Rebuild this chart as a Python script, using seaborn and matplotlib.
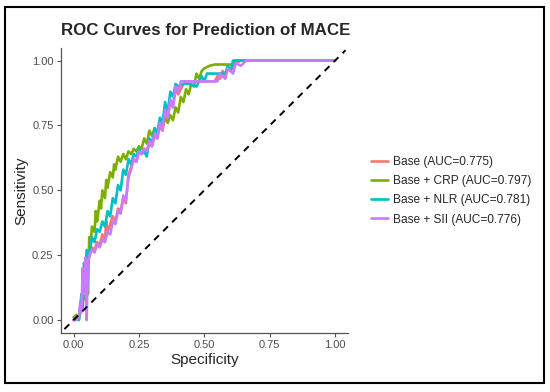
import pandas as pd, numpy as np
import matplotlib
matplotlib.use('Agg')
import matplotlib.pyplot as plt
from matplotlib.patches import Rectangle
import seaborn as sns

sns.set_style("ticks")
plt.rcParams['font.family'] = ['Liberation Sans', 'DejaVu Sans']

# ROC points (x = 1 - specificity as drawn, y = sensitivity)
base_x = [0.00, 0.01, 0.02, 0.03, 0.035, 0.04, 0.045, 0.05, 0.06, 0.07,
          0.08, 0.09, 0.10, 0.11, 0.12, 0.125, 0.13, 0.14, 0.15, 0.16,
          0.17, 0.18, 0.19, 0.20, 0.205, 0.21, 0.22, 0.23, 0.24, 0.25,
          0.26, 0.27, 0.28, 0.29, 0.30, 0.31, 0.32, 0.33, 0.34, 0.35,
          0.36, 0.37, 0.38, 0.39, 0.40, 0.42, 0.44, 0.50, 0.54, 0.55,
          0.56, 0.57, 0.58, 0.59, 0.60, 0.62, 0.64, 1.00]
base_y = [0.00, 0.00, 0.01, 0.08, 0.04, 0.20, 0.12, 0.25, 0.24, 0.28,
          0.27, 0.30, 0.29, 0.33, 0.31, 0.38, 0.34, 0.37, 0.40, 0.38,
          0.43, 0.42, 0.47, 0.45, 0.51, 0.56, 0.59, 0.62, 0.61, 0.65,
          0.64, 0.66, 0.65, 0.68, 0.67, 0.71, 0.70, 0.75, 0.73, 0.80,
          0.78, 0.84, 0.82, 0.89, 0.87, 0.91, 0.92, 0.92, 0.92, 0.94,
          0.93, 0.96, 0.94, 0.97, 0.96, 0.99, 1.00, 1.00]

crp_x = [0.00, 0.01, 0.02, 0.03, 0.04, 0.045, 0.05, 0.055, 0.06, 0.065,
         0.07, 0.08, 0.085, 0.09, 0.10, 0.105, 0.11, 0.12, 0.125, 0.13,
         0.14, 0.15, 0.155, 0.16, 0.17, 0.18, 0.19, 0.20, 0.21, 0.22,
         0.23, 0.24, 0.25, 0.26, 0.27, 0.28, 0.29, 0.30, 0.31, 0.32,
         0.33, 0.34, 0.35, 0.36, 0.37, 0.38, 0.39, 0.40, 0.41, 0.42,
         0.43, 0.44, 0.45, 0.46, 0.47, 0.48, 0.49, 0.50, 0.52, 0.54,
         0.61, 0.62, 0.63, 1.00]
crp_y = [0.01, 0.02, 0.00, 0.05, 0.12, 0.08, 0.25, 0.10, 0.32, 0.28,
         0.36, 0.34, 0.42, 0.38, 0.46, 0.43, 0.50, 0.47, 0.54, 0.51,
         0.57, 0.55, 0.60, 0.58, 0.63, 0.61, 0.64, 0.62, 0.65, 0.64,
         0.66, 0.65, 0.67, 0.66, 0.70, 0.68, 0.73, 0.71, 0.74, 0.72,
         0.76, 0.74, 0.78, 0.76, 0.79, 0.77, 0.82, 0.80, 0.86, 0.84,
         0.89, 0.87, 0.91, 0.90, 0.95, 0.93, 0.96, 0.97, 0.98, 0.985,
         0.985, 1.00, 1.00, 1.00]

nlr_x = [0.00, 0.01, 0.02, 0.03, 0.035, 0.04, 0.045, 0.05, 0.06, 0.07,
         0.08, 0.09, 0.10, 0.11, 0.12, 0.13, 0.14, 0.15, 0.16, 0.17,
         0.18, 0.19, 0.20, 0.21, 0.22, 0.23, 0.24, 0.25, 0.26, 0.27,
         0.28, 0.29, 0.30, 0.31, 0.32, 0.33, 0.34, 0.35, 0.36, 0.37,
         0.38, 0.39, 0.40, 0.42, 0.44, 0.47, 0.49, 0.50, 0.51, 0.52,
         0.58, 0.59, 0.60, 0.61, 0.63, 1.00]
nlr_y = [0.00, 0.01, 0.00, 0.10, 0.05, 0.22, 0.15, 0.27, 0.25, 0.32,
         0.30, 0.35, 0.34, 0.38, 0.36, 0.42, 0.40, 0.47, 0.45, 0.52,
         0.50, 0.58, 0.56, 0.62, 0.60, 0.64, 0.63, 0.66, 0.64, 0.65,
         0.63, 0.70, 0.68, 0.74, 0.72, 0.78, 0.76, 0.84, 0.80, 0.88,
         0.86, 0.91, 0.90, 0.91, 0.91, 0.90, 0.94, 0.92, 0.95, 0.95,
         0.95, 0.98, 0.96, 1.00, 1.00, 1.00]

sii_x = [0.00, 0.01, 0.02, 0.025, 0.03, 0.035, 0.04, 0.045, 0.05, 0.055,
         0.06, 0.07, 0.08, 0.09, 0.10, 0.11, 0.12, 0.13, 0.14, 0.15,
         0.16, 0.17, 0.18, 0.19, 0.20, 0.21, 0.22, 0.23, 0.24, 0.25,
         0.26, 0.27, 0.28, 0.29, 0.30, 0.31, 0.32, 0.33, 0.34, 0.35,
         0.36, 0.37, 0.38, 0.39, 0.40, 0.41, 0.43, 0.55, 0.56, 0.58,
         0.59, 0.61, 0.62, 0.64, 0.66, 1.00]
sii_y = [0.00, 0.00, 0.01, 0.06, 0.03, 0.20, 0.10, 0.24, 0.00, 0.22,
         0.25, 0.27, 0.26, 0.29, 0.28, 0.31, 0.30, 0.34, 0.33, 0.38,
         0.37, 0.42, 0.41, 0.48, 0.46, 0.55, 0.58, 0.62, 0.61, 0.65,
         0.64, 0.66, 0.65, 0.69, 0.67, 0.72, 0.70, 0.76, 0.73, 0.81,
         0.78, 0.85, 0.82, 0.90, 0.88, 0.92, 0.92, 0.92, 0.95, 0.93,
         0.97, 0.95, 0.99, 0.98, 1.00, 1.00]

models = ['Base (AUC=0.775)', 'Base + CRP (AUC=0.797)',
          'Base + NLR (AUC=0.781)', 'Base + SII (AUC=0.776)']
colors = ['#F8766D', '#7CAE00', '#00BFC4', '#C77CFF']
diag = [-0.035, 1.04]

frames = []
for name, xs, ys in zip(models, [base_x, crp_x, nlr_x, sii_x],
                        [base_y, crp_y, nlr_y, sii_y]):
    frames.append(pd.DataFrame({'spec': xs, 'sens': ys, 'model': name}))
df = pd.concat(frames, ignore_index=True)

fig = plt.figure(figsize=(5.5, 3.92), dpi=100)
ax = fig.add_axes([0.110, 0.1505, 0.523, 0.728])

sns.lineplot(data=df, x='spec', y='sens', hue='model', hue_order=models,
             palette=colors, sort=False, estimator=None, linewidth=1.9, ax=ax)
ax.plot(diag, diag, color='black', linestyle=(0, (3.5, 3)), linewidth=1.4)

ax.set_xlim(-0.05, 1.05)
ax.set_ylim(-0.05, 1.05)
ticks = [0.00, 0.25, 0.50, 0.75, 1.00]
ax.set_xticks(ticks)
ax.set_yticks(ticks)
ax.set_xticklabels([f'{t:.2f}' for t in ticks])
ax.set_yticklabels([f'{t:.2f}' for t in ticks])
ax.tick_params(length=3, width=0.8, color='#555555', labelsize=8,
               labelcolor='#4D4D4D', pad=2)
for s in ['left', 'bottom']:
    ax.spines[s].set_color('#555555')
    ax.spines[s].set_linewidth(0.9)
sns.despine(ax=ax)

ax.set_xlabel('Specificity', fontsize=11, labelpad=2)
ax.set_ylabel('Sensitivity', fontsize=11, labelpad=3)
fig.text(0.111, 0.923, 'ROC Curves for Prediction of MACE', fontsize=12.2,
         fontweight='bold', ha='left', va='center')

handles, labels = ax.get_legend_handles_labels()
ax.legend(handles, labels, loc='center left', bbox_to_anchor=(0.6745, 0.513),
          bbox_transform=fig.transFigure, frameon=False, fontsize=8.6,
          handlelength=1.45, handletextpad=0.4, labelspacing=0.6,
          borderpad=0, borderaxespad=0)

fig.patches.append(Rectangle((5 / 550, 9 / 392), 539 / 550, 376 / 392,
                             transform=fig.transFigure, fill=False,
                             edgecolor='black', linewidth=1.5))

fig.savefig('out.png', dpi=100)
